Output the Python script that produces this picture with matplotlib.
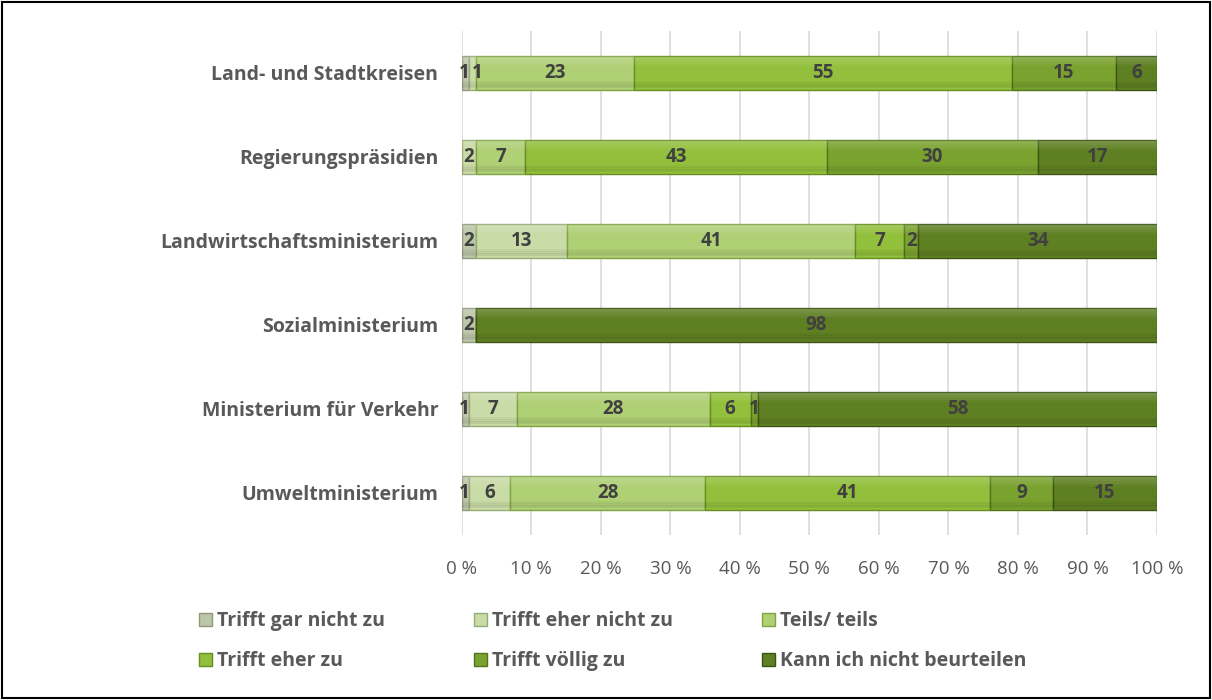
import matplotlib
matplotlib.use("Agg")
import matplotlib.pyplot as plt
from matplotlib.patches import Rectangle
import numpy as np

categories = ["Land- und Stadtkreisen", "Regierungspräsidien", "Landwirtschaftsministerium",
              "Sozialministerium", "Ministerium für Verkehr", "Umweltministerium"]
series = ["Trifft gar nicht zu", "Trifft eher nicht zu", "Teils/ teils",
          "Trifft eher zu", "Trifft völlig zu", "Kann ich nicht beurteilen"]
gar_nicht = [1, 0, 2, 2, 1, 1]
eher_nicht = [1, 2, 13, 0, 7, 6]
teils = [23, 7, 41, 0, 28, 28]
eher_zu = [55, 43, 7, 0, 6, 41]
voellig = [15, 30, 2, 0, 1, 9]
kann_nicht = [6, 17, 34, 98, 58, 15]
values = [gar_nicht, eher_nicht, teils, eher_zu, voellig, kann_nicht]

colors = ["#bcc6a8", "#c9dba6", "#afd075", "#93c03c", "#7aa22f", "#5e7f22"]
edges = ["#8f9a7c", "#97ab74", "#7fa444", "#658e1f", "#52741b", "#3c5512"]

plt.rcParams['font.family'] = ['Open Sans', 'DejaVu Sans']
fig = plt.figure(figsize=(12.12, 7.0), dpi=100)
ax = fig.add_axes([0.381, 0.236, 0.5736, 0.72])

data = np.array(values, dtype=float)
totals = data.sum(axis=0)
pct = data / totals * 100
y = np.arange(len(categories))
left = np.zeros(len(categories))
handles = []
prev_small = np.zeros(len(categories), dtype=bool)
H = 0.41
for i, s in enumerate(series):
    bars = ax.barh(y, pct[i], left=left, height=H, color=colors[i],
                   edgecolor=edges[i], linewidth=1.0, label=s, zorder=3)
    # soft bevel shading: lighter top, darker bottom
    for k, a in enumerate([0.10, 0.08, 0.06, 0.04]):
        ax.barh(y - H / 2 + 0.02 + k * 0.025, pct[i], left=left, height=0.05,
                color="white", alpha=a, linewidth=0, zorder=3.5)
    for k, a in enumerate([0.03, 0.05, 0.07]):
        ax.barh(y + H / 2 - 0.09 + k * 0.025, pct[i], left=left, height=0.04,
                color="black", alpha=a, linewidth=0, zorder=3.5)
    handles.append(bars)
    for j in range(len(categories)):
        v = data[i, j]
        if v > 0:
            xc = left[j] + pct[i, j] / 2
            small = pct[i, j] < 1.6
            if small and prev_small[j]:
                xc += 0.7
            elif small and i == 0:
                xc -= 0.2
            ax.text(xc, y[j], f"{int(v)}", ha="center", va="center",
                    fontsize=13.5, fontweight="bold", color="#404040", zorder=4)
            prev_small[j] = small
    left += pct[i]

ax.set_xlim(0, 100)
ax.set_ylim(len(categories) - 0.5, -0.5)
ax.set_yticks(y)
ax.set_yticklabels(categories, fontsize=14, fontweight="bold", color="#595959")
ax.set_xticks(np.arange(0, 101, 10))
ax.set_xticklabels([f"{t} %" for t in range(0, 101, 10)], fontsize=13.5, color="#595959")
ax.tick_params(axis="y", length=0, pad=17)
ax.tick_params(axis="x", length=0, pad=18)
ax.grid(axis="x", color="#d9d9d9", linewidth=1.2, zorder=0)
for sp in ax.spines.values():
    sp.set_visible(False)

order = [0, 3, 1, 4, 2, 5]
leg = fig.legend([handles[k] for k in order], [series[k] for k in order], ncol=3,
                 loc="lower left", bbox_to_anchor=(0.150, 0.016), frameon=False,
                 prop={"size": 14, "weight": "bold"}, handlelength=0.65, handleheight=0.65,
                 handletextpad=0.25, columnspacing=4.6, labelspacing=1.05)
for t in leg.get_texts():
    t.set_color("#595959")

fig.patches.append(Rectangle((0.002, 0.003), 0.996, 0.994, transform=fig.transFigure,
                             fill=False, edgecolor="black", linewidth=1.5))
fig.savefig("out.png", dpi=100)
